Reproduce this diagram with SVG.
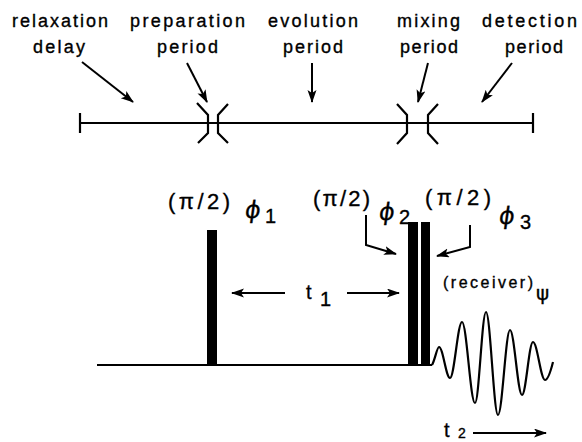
<svg xmlns="http://www.w3.org/2000/svg" width="582" height="442" viewBox="0 0 582 442">
<defs>
<marker id="ah" markerUnits="userSpaceOnUse" markerWidth="13" markerHeight="10" refX="12" refY="4.5" orient="auto">
<path d="M0,0 L13,4.5 L0,9 L3,4.5 z" fill="#000"/>
</marker>
<style>
.t{font-family:"Liberation Sans",Arial,sans-serif;font-size:18px;fill:#000;stroke:#000;stroke-width:0.35}
.g{font-family:"DejaVu Sans",sans-serif;fill:#000;stroke:#000;stroke-width:0.3}
.ln{stroke:#000;stroke-width:2.2;fill:none}
.ar{stroke:#000;stroke-width:2;fill:none;marker-end:url(#ah)}
</style>
</defs>
<rect width="582" height="442" fill="#fff"/>

<g id="labels-top">
<text class="t" x="12" y="27" textLength="96" lengthAdjust="spacing">relaxation</text>
<text class="t" x="33" y="53" textLength="52" lengthAdjust="spacing">delay</text>
<text class="t" x="130" y="27" textLength="115" lengthAdjust="spacing">preparation</text>
<text class="t" x="157" y="53" textLength="61" lengthAdjust="spacing">period</text>
<text class="t" x="268" y="27" textLength="90" lengthAdjust="spacing">evolution</text>
<text class="t" x="283" y="53" textLength="60" lengthAdjust="spacing">period</text>
<text class="t" x="397" y="27" textLength="63" lengthAdjust="spacing">mixing</text>
<text class="t" x="400" y="53" textLength="58" lengthAdjust="spacing">period</text>
<text class="t" x="482" y="27" textLength="95" lengthAdjust="spacing">detection</text>
<text class="t" x="505" y="53" textLength="58" lengthAdjust="spacing">period</text>
</g>

<g id="timeline">
<line class="ln" x1="80" y1="123" x2="533" y2="123"/>
<line class="ln" x1="80" y1="113" x2="80" y2="133"/>
<line class="ln" x1="533" y1="113" x2="533" y2="133"/>
<polyline class="ln" points="197,103 208,115 208,133 198,143"/>
<polyline class="ln" points="228,104 218,115 218,133 228,143"/>
<polyline class="ln" points="397,104 407,115 407,133 397,144"/>
<polyline class="ln" points="438,104 428,115 428,133 438,144"/>
</g>

<g id="connectors">
<line class="ar" x1="82" y1="62" x2="133" y2="102"/>
<line class="ar" x1="187" y1="63" x2="207" y2="102"/>
<line class="ar" x1="312" y1="63" x2="312" y2="102"/>
<line class="ar" x1="428" y1="63" x2="418" y2="102"/>
<line class="ar" x1="512" y1="63" x2="482" y2="102"/>
<polyline class="ar" points="366,215 366,245 396,254"/>
<polyline class="ar" points="470,225 470,247 437,256"/>
<line class="ar" x1="285" y1="293" x2="232" y2="293"/>
<line class="ar" x1="347" y1="293" x2="399" y2="293"/>
<line class="ar" x1="473" y1="433" x2="546" y2="433"/>
</g>

<g id="pulse1">
<rect x="207" y="230" width="10" height="135" fill="#000"/>
<text class="t" x="168" y="209" textLength="62" lengthAdjust="spacing" style="font-size:22px">(π/2)</text>
<text class="g" x="244" y="218" font-size="24" transform="skewX(-8) translate(30.6,0)">ϕ</text>
<text class="t" x="265" y="223" style="font-size:20px">1</text>
</g>

<g id="pulse2">
<rect x="408" y="222" width="10" height="143" fill="#000"/>
<text class="t" x="313" y="206" textLength="57" lengthAdjust="spacing" style="font-size:22px">(π/2)</text>
<text class="g" x="378" y="220" font-size="24" transform="skewX(-8) translate(30.9,0)">ϕ</text>
<text class="t" x="399" y="224" style="font-size:20px">2</text>
</g>

<g id="pulse3">
<rect x="421" y="222" width="9" height="143" fill="#000"/>
<text class="t" x="425" y="205" textLength="66" lengthAdjust="spacing" style="font-size:22px">(π/2)</text>
<text class="g" x="498" y="224" font-size="24" transform="skewX(-8) translate(31.5,0)">ϕ</text>
<text class="t" x="520" y="229" style="font-size:20px">3</text>
</g>

<g id="baseline">
<line class="ln" x1="97" y1="365" x2="432" y2="365"/>
</g>

<g id="fid">
<path class="ln" d="M432,365 C435,360 437,347 439,347 C443,347 446,378 450,378 C454.3,378 457.7,322 462,322 C466.7,322 470.3,403 475,403 C479,403 482,312 486,312 C490.3,312 493.7,415 498,415 C502.3,415 505.7,330 510,330 C514.3,330 517.7,395 522,395 C526,395 529,342 533,342 C537.3,342 540.7,380 545,380 C548,380 551,370 553,362"/>
<text class="t" x="443" y="288" textLength="90" lengthAdjust="spacing" style="font-size:16px">(receiver)</text>
<text class="g" x="536" y="300" font-size="20">ψ</text>
</g>

<g id="t1">
<text class="t" x="306" y="299" style="font-size:20px">t</text>
<text class="t" x="320" y="306" style="font-size:20px">1</text>
</g>

<g id="t2">
<text class="t" x="444" y="437" style="font-size:20px">t</text>
<text class="t" x="458" y="438" style="font-size:14px">2</text>
</g>
</svg>
